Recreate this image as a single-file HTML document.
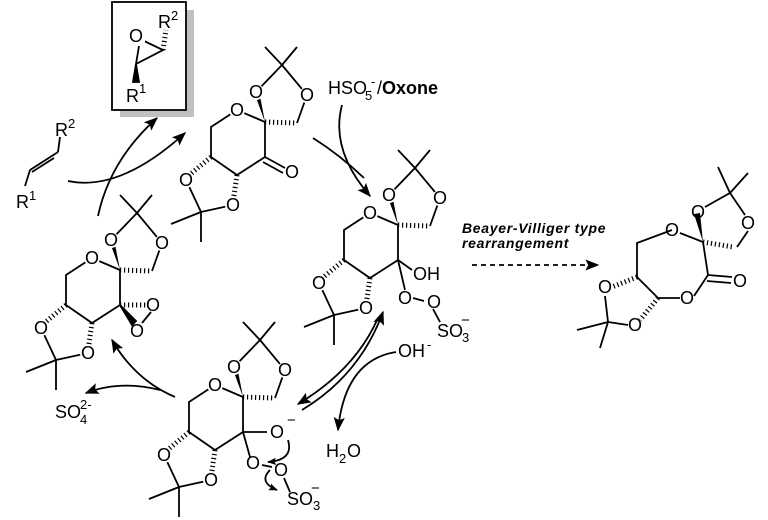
<!DOCTYPE html>
<html><head><meta charset="utf-8"><style>
html,body{margin:0;padding:0;background:#fff;}
svg{display:block;}
text{font-family:"Liberation Sans",sans-serif;font-size:18px;fill:#000;}
.o{text-anchor:middle;dominant-baseline:central;}
</style></head><body>
<svg width="768" height="520" viewBox="0 0 768 520" xmlns="http://www.w3.org/2000/svg">
<defs>
<marker id="ah" viewBox="0 0 10 10" refX="9" refY="5" markerWidth="9" markerHeight="9" orient="auto-start-reverse" markerUnits="userSpaceOnUse"><path d="M0,1 L10,5 L0,9 L2,5z" fill="#000"/></marker>
<marker id="ahs" viewBox="0 0 10 10" refX="9" refY="5" markerWidth="14" markerHeight="14" orient="auto" markerUnits="userSpaceOnUse"><path d="M0,1 L10,5 L0,9 L2,5z" fill="#000"/></marker>
<g id="core" stroke="#000" stroke-width="1.8" fill="none">
<polyline points="0,0 -26,17 -26,47 0,65 28,47 28,12 0,0"/>
<polygon points="28,12 17,-18 22,-19" fill="#000" stroke="none"/>
<polyline points="19,-18 45,-45 70,-15 60,13"/>
<line x1="45" y1="-45" x2="28" y2="-63"/><line x1="45" y1="-45" x2="60" y2="-63"/>
<line x1="28" y1="12" x2="58" y2="13" stroke-dasharray="1.2,2.8" stroke-width="5"/>
<line x1="-26" y1="47" x2="-50" y2="67" stroke-dasharray="1.2,2.8" stroke-width="5"/>
<line x1="0" y1="65" x2="-4" y2="92" stroke-dasharray="1.2,2.8" stroke-width="5"/>
<polyline points="-51,70 -36,102 -4,95"/>
<line x1="-36" y1="102" x2="-66" y2="114"/><line x1="-36" y1="102" x2="-36" y2="132"/>
<g fill="#fff" stroke="none"><circle cx="0" cy="0" r="8"/><circle cx="19" cy="-18" r="8"/><circle cx="70" cy="-15" r="8"/><circle cx="-51" cy="70" r="8"/><circle cx="-4" cy="95" r="8"/></g>
</g>
</defs>

<!-- epoxide box -->
<rect x="120" y="10" width="74" height="107" fill="#c0c0c0"/>
<rect x="112" y="2" width="74" height="108" fill="#fff" stroke="#000" stroke-width="1.8"/>
<g stroke="#000" stroke-width="1.8" fill="none">
<polyline points="139,46 136,64 163,50 142,40"/>
<line x1="163" y1="50" x2="166" y2="30" stroke-dasharray="1.2,2.8" stroke-width="5"/>
<polygon points="136,64 133,82 139,82" fill="#000"/>
</g>
<rect x="127" y="26" width="18" height="18" fill="#fff"/>
<text x="136" y="36" class="o">O</text>
<text x="158" y="28">R</text><text x="171" y="20" style="font-size:13px">2</text>
<text x="126" y="102">R</text><text x="139" y="93" style="font-size:13px">1</text>

<!-- alkene -->
<g stroke="#000" stroke-width="1.8"><line x1="60" y1="137" x2="58" y2="152"/><line x1="58" y1="152" x2="30" y2="170"/><line x1="54" y1="158" x2="32" y2="172" /><line x1="30" y1="170" x2="25" y2="186"/></g>
<text x="55" y="136">R</text><text x="68" y="128" style="font-size:13px">2</text>
<text x="16" y="208">R</text><text x="29" y="200" style="font-size:13px">1</text>

<!-- structures -->
<use href="#core" x="237" y="110"/>
<text x="237" y="110" class="o">O</text><text x="256" y="92" class="o">O</text><text x="307" y="95" class="o">O</text><text x="186" y="180" class="o">O</text><text x="233" y="205" class="o">O</text>
<g stroke="#000" stroke-width="1.8"><line x1="265" y1="157" x2="285" y2="168"/><line x1="263" y1="162" x2="283" y2="173"/></g>
<text x="292" y="172" class="o">O</text>

<use href="#core" x="370" y="213"/>
<text x="370" y="213" class="o">O</text><text x="389" y="195" class="o">O</text><text x="440" y="198" class="o">O</text><text x="319" y="283" class="o">O</text><text x="366" y="308" class="o">O</text>
<g stroke="#000" stroke-width="1.8"><line x1="398" y1="260" x2="412" y2="270"/><line x1="398" y1="260" x2="405" y2="290"/><line x1="413" y1="298" x2="424" y2="301"/><line x1="433" y1="309" x2="440" y2="322"/></g>
<text x="413" y="280">OH</text>
<text x="405" y="298" class="o">O</text><text x="434" y="302" class="o">O</text>
<text x="437" y="337">SO</text><text x="462" y="342" style="font-size:13px">3</text><text x="461" y="325" style="font-size:15px">−</text>

<use href="#core" x="215" y="385"/>
<text x="215" y="385" class="o">O</text><text x="234" y="367" class="o">O</text><text x="285" y="370" class="o">O</text><text x="164" y="455" class="o">O</text><text x="211" y="480" class="o">O</text>
<g stroke="#000" stroke-width="1.8" fill="none"><line x1="243" y1="432" x2="267" y2="432"/><line x1="243" y1="432" x2="250" y2="457"/><line x1="262" y1="465" x2="272" y2="467"/><line x1="284" y1="478" x2="290" y2="492"/>
<path d="M288,440 Q294,460 268,462" marker-end="url(#ah)"/><path d="M270,470 Q258,482 277,490" marker-end="url(#ah)"/></g>
<text x="277" y="432" class="o">O</text><text x="287" y="425" style="font-size:15px">−</text>
<text x="253" y="463" class="o">O</text><text x="281" y="470" class="o">O</text>
<text x="287" y="505">SO</text><text x="313" y="510" style="font-size:13px">3</text><text x="311" y="493" style="font-size:15px">−</text>

<use href="#core" x="92" y="258"/>
<text x="92" y="258" class="o">O</text><text x="111" y="240" class="o">O</text><text x="162" y="243" class="o">O</text><text x="41" y="328" class="o">O</text><text x="88" y="353" class="o">O</text>
<g stroke="#000" stroke-width="1.8"><line x1="120" y1="305" x2="146" y2="305" stroke-dasharray="1.2,2.8" stroke-width="5"/><polygon points="120,305 132,325 136,321" fill="#000"/><line x1="151" y1="312" x2="142" y2="323"/></g>
<text x="153" y="305" class="o">O</text><text x="137" y="331" class="o">O</text>

<!-- product -->
<g stroke="#000" stroke-width="1.8" fill="none">
<polyline points="672,230 637,243 637,277 658,298 680,298"/>
<polyline points="694,296 708,275 703,242 680,233"/>
<line x1="708" y1="275" x2="732" y2="277"/><line x1="707" y1="281" x2="731" y2="283"/>
<polygon points="703,242 694,214 700,213" fill="#000" stroke="none"/>
<polyline points="705,207 730,193 745,215"/><polyline points="748,231 737,247"/>
<line x1="730" y1="193" x2="718" y2="167"/><line x1="730" y1="193" x2="748" y2="173"/>
<line x1="703" y1="242" x2="733" y2="247" stroke-dasharray="1.2,2.8" stroke-width="5"/>
<line x1="637" y1="277" x2="612" y2="287" stroke-dasharray="1.2,2.8" stroke-width="5"/>
<line x1="658" y1="298" x2="640" y2="320" stroke-dasharray="1.2,2.8" stroke-width="5"/>
<polyline points="605,296 608,322 628,325"/>
<line x1="608" y1="322" x2="577" y2="330"/><line x1="608" y1="322" x2="600" y2="348"/>
</g>
<text x="672" y="230" class="o">O</text><text x="698" y="212" class="o">O</text><text x="748" y="223" class="o">O</text>
<text x="740" y="281" class="o">O</text><text x="687" y="298" class="o">O</text><text x="605" y="287" class="o">O</text><text x="635" y="325" class="o">O</text>

<!-- labels -->
<text x="328" y="94">HSO</text><text x="365" y="100" style="font-size:13px">5</text><text x="371" y="86" style="font-size:13px">-</text><text x="377" y="94">/<tspan font-weight="bold">Oxone</tspan></text>
<text x="462" y="233" style="font-size:14px;font-weight:bold;font-style:italic;letter-spacing:0.7px">Beayer-Villiger type</text>
<text x="462" y="248" style="font-size:14px;font-weight:bold;font-style:italic;letter-spacing:0.7px">rearrangement</text>
<text x="398" y="357">OH</text><text x="427" y="349" style="font-size:13px">-</text>
<text x="326" y="457">H</text><text x="339" y="463" style="font-size:13px">2</text><text x="347" y="457">O</text>
<text x="55" y="418">SO</text><text x="80" y="424" style="font-size:13px">4</text><text x="80" y="409" style="font-size:13px">2-</text>

<!-- arrows -->
<g stroke="#000" stroke-width="1.8" fill="none">
<path d="M68,181 Q120,192 185,133" marker-end="url(#ahs)"/>
<path d="M98,216 Q110,160 157,118" marker-end="url(#ahs)"/>
<path d="M342,105 Q330,150 370,196" marker-end="url(#ahs)"/>
<path d="M313,138 Q340,155 364,178"/>
<path d="M472,265 L598,265" stroke-dasharray="5,4" marker-end="url(#ahs)"/>
<path d="M302,410 Q360,375 383,312" marker-end="url(#ahs)"/>
<path d="M378,318 Q355,370 298,404" marker-end="url(#ahs)"/>
<path d="M396,352 Q345,360 338,430" marker-end="url(#ahs)"/>
<path d="M175,397 Q135,380 112,340" marker-end="url(#ahs)"/>
<path d="M160,390 Q120,380 86,393" marker-end="url(#ahs)"/>
</g>
</svg>
</body></html>
